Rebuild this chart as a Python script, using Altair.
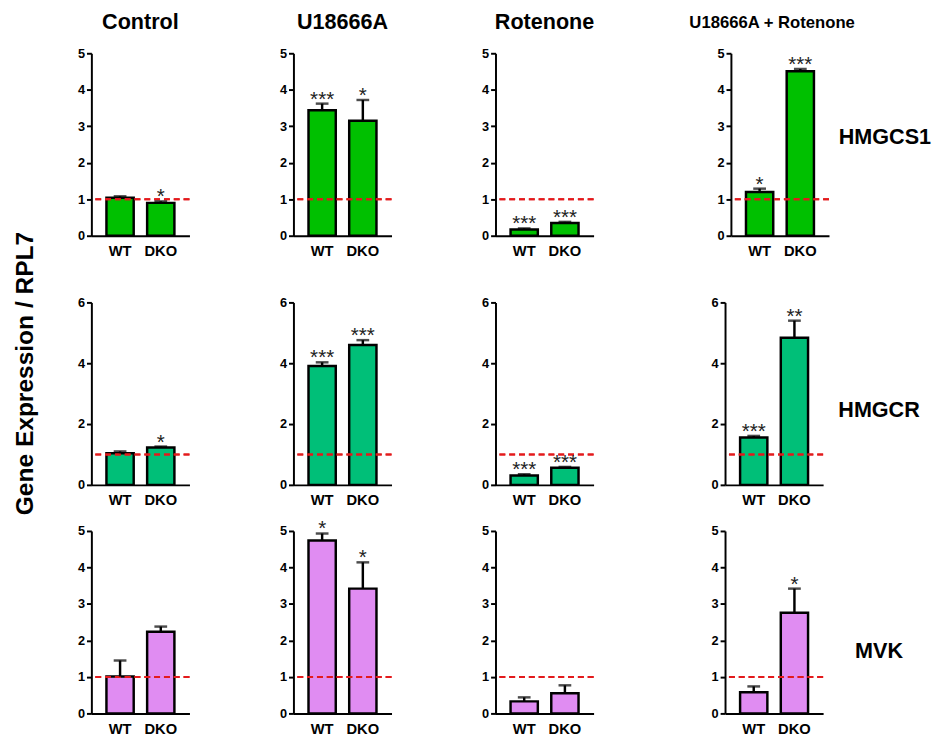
import altair as alt
import pandas as pd

genes = ["HMGCS1", "HMGCR", "MVK"]
treatments = ["Control", "U18666A", "Rotenone", "U18666A + Rotenone"]
genotypes = ["WT", "DKO"]

# order: Control WT, Control DKO, U18666A WT, U18666A DKO, Rotenone WT, Rotenone DKO, Combo WT, Combo DKO
hmgcs1_mean = [1.04, 0.90, 3.44, 3.15, 0.17, 0.35, 1.20, 4.51]
hmgcs1_sem = [0.04, 0.04, 0.18, 0.57, 0.03, 0.03, 0.09, 0.06]
hmgcs1_sig = ["", "*", "***", "*", "***", "***", "*", "***"]

hmgcr_mean = [1.04, 1.23, 3.91, 4.60, 0.31, 0.56, 1.56, 4.84]
hmgcr_sem = [0.06, 0.03, 0.12, 0.16, 0.04, 0.03, 0.05, 0.56]
hmgcr_sig = ["", "*", "***", "***", "***", "***", "***", "**"]

mvk_mean = [1.01, 2.24, 4.74, 3.42, 0.33, 0.55, 0.58, 2.76]
mvk_sem = [0.44, 0.14, 0.19, 0.72, 0.11, 0.22, 0.16, 0.66]
mvk_sig = ["", "", "*", "*", "", "", "", "*"]

y_max = [5, 6, 5]
y_ticks = [[0, 1, 2, 3, 4, 5], [0, 2, 4, 6], [0, 1, 2, 3, 4, 5]]
bar_colors = ["#00C000", "#00BF78", "#E08CF2"]

means = [hmgcs1_mean, hmgcr_mean, mvk_mean]
sems = [hmgcs1_sem, hmgcr_sem, mvk_sem]
sigs = [hmgcs1_sig, hmgcr_sig, mvk_sig]

FONT = "Liberation Sans"
W, H = 100, 186
label_y = [85, 110, 123]


def panel(gi, ti):
    rows = []
    for k, g in enumerate(genotypes):
        idx = ti * 2 + k
        m = means[gi][idx]
        s = sems[gi][idx]
        rows.append({"genotype": g, "mean": m, "upper": m + s, "sig": sigs[gi][idx]})
    df = pd.DataFrame(rows)
    base = alt.Chart(df).encode(
        x=alt.X(
            "genotype:N",
            sort=genotypes,
            scale=alt.Scale(paddingInner=0.33, paddingOuter=0.37),
            axis=alt.Axis(
                title=None, labelAngle=0, ticks=False, labelFontSize=15,
                labelFontWeight="bold", labelPadding=8, labelFont=FONT,
                domainColor="black", domainWidth=2, labelColor="black",
            ),
        )
    )
    yscale = alt.Scale(domain=[0, y_max[gi]], nice=False)
    yaxis = alt.Axis(
        title=None, grid=False, values=y_ticks[gi], labelFontSize=13,
        labelFontWeight="bold", labelFont=FONT, labelColor="black",
        domainColor="black", domainWidth=2, tickColor="black",
        tickWidth=2, tickSize=5, labelPadding=2,
    )
    y_mean = alt.Y("mean:Q", scale=yscale, axis=yaxis)
    y_up = alt.Y("upper:Q", scale=yscale, axis=yaxis)
    bars = base.mark_bar(color=bar_colors[gi], stroke="black", strokeWidth=2.5).encode(y=y_mean)
    err = base.mark_rule(color="black", strokeWidth=2.5).encode(y=y_mean, y2="upper:Q")
    cap = base.mark_tick(color="black", size=13, thickness=2.5).encode(y=y_up)
    stars = base.mark_text(
        font=FONT, fontSize=21, color="#222222", baseline="alphabetic", dy=2
    ).encode(y=y_up, text="sig:N")
    ref = alt.Chart(df).mark_rule(
        color="#E31A1C", strokeDash=[6, 4], strokeWidth=2
    ).encode(y=alt.datum(1, scale=yscale, axis=yaxis))
    layers = [bars, ref, err, cap, stars]
    if ti == 3:
        lab = alt.Chart(pd.DataFrame({"label": [genes[gi]]})).mark_text(
            font=FONT, fontSize=22, fontWeight="bold", color="black",
            align="center", baseline="middle",
        ).encode(text="label:N", x=alt.value(W + 57), y=alt.value(label_y[gi]))
        layers.append(lab)
    ch = alt.layer(*layers).properties(width=W, height=H)
    if gi == 0:
        if ti == 3:
            t = alt.TitleParams(treatments[ti], fontSize=17, fontWeight="bold",
                                font=FONT, color="black", offset=10, dx=-8, dy=-6)
        else:
            t = alt.TitleParams(treatments[ti], fontSize=22, fontWeight="bold",
                                font=FONT, color="black", offset=8, dy=-6)
        ch = ch.properties(title=t)
    return ch


def row(gi, s4):
    left = alt.hconcat(*[panel(gi, t) for t in range(3)], spacing=90)
    return alt.hconcat(left, panel(gi, 3), spacing=s4)


chart = alt.vconcat(
    row(0, 96),
    alt.vconcat(row(1, 118), row(2, 118), spacing=11),
    spacing=39,
).properties(
    title=alt.TitleParams(
        "Gene Expression / RPL7", orient="left", anchor="middle",
        fontSize=25, fontWeight="bold", font=FONT, color="black", offset=40,
    ),
    padding={"left": 5, "top": -4, "right": 0, "bottom": 0},
    background="white",
).configure_view(strokeWidth=0)

chart.save("out.html", embed_options={"renderer": "svg", "actions": False})
